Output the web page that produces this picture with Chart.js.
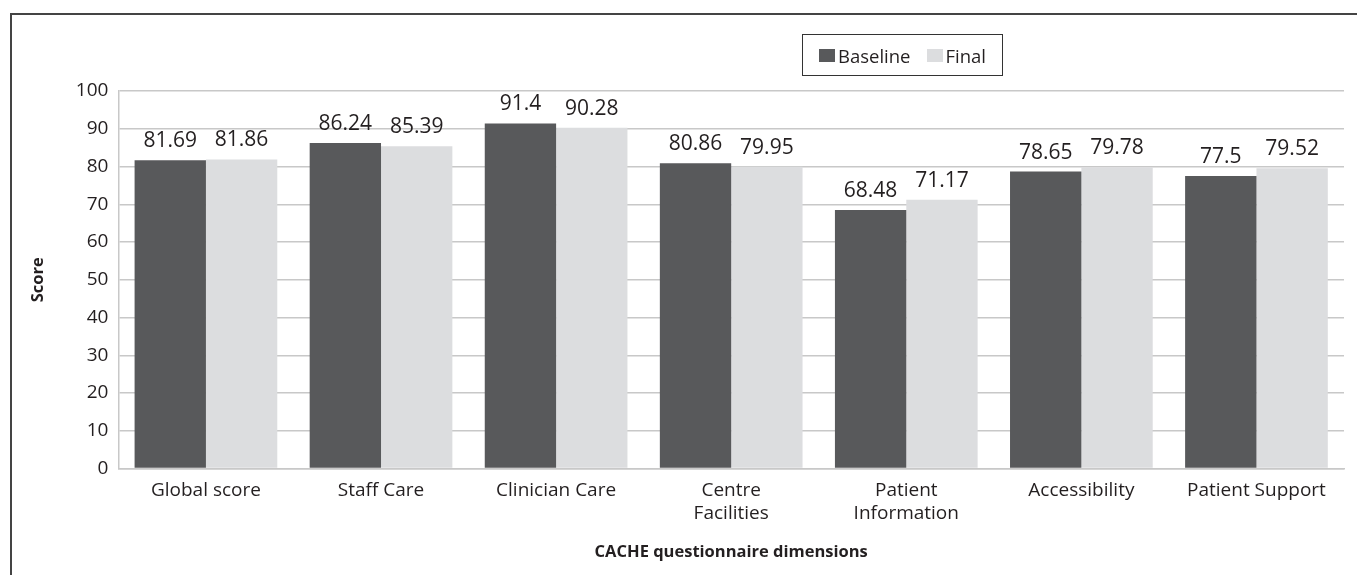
<!DOCTYPE html>
<html>
<head>
<meta charset="utf-8">
<script src="https://cdn.jsdelivr.net/npm/chart.js@4"></script>
<style>
    body { margin: 0; background: #fff; font-family: "Open Sans", sans-serif; }
    #wrap { position: relative; width: 1357px; height: 575px; }
    #frame { position: absolute; left: 10px; top: 13px; right: 0; bottom: 0; border-left: 2px solid #444; border-top: 2px solid #444; pointer-events: none; }
    #legend { position: absolute; left: 802px; top: 34px; width: 201px; height: 42px; border: 1.5px solid #333; box-sizing: border-box;
              display: flex; align-items: center; justify-content: center; font-size: 18.5px; color: #231f20; }
    #legend span.sw { display: inline-block; width: 16px; height: 13px; margin-right: 3px; }
    #legend span.item { display: inline-flex; align-items: center; margin: 0 8px; }
</style>
</head>
<body>
<div id="wrap">
    <canvas id="chart" width="1357" height="575"></canvas>
    <div id="frame"></div>
    <div id="legend"></div>
</div>
<script>
const categories = ['Global score', 'Staff Care', 'Clinician Care', ['Centre', 'Facilities'], ['Patient', 'Information'], 'Accessibility', 'Patient Support'];
const baseline = [81.69, 86.24, 91.4, 80.86, 68.48, 78.65, 77.5];
const final = [81.86, 85.39, 90.28, 79.95, 71.17, 79.78, 79.52];
const yTicks = [0, 10, 20, 30, 40, 50, 60, 70, 80, 90, 100];

const seriesNames = ['Baseline', 'Final'];
const seriesColors = ['#58595b', '#dcdddf'];
const textColor = '#231f20';

// legend in html
const legend = document.getElementById('legend');
seriesNames.forEach((name, i) => {
    const item = document.createElement('span');
    item.className = 'item';
    const sw = document.createElement('span');
    sw.className = 'sw';
    sw.style.background = seriesColors[i];
    item.appendChild(sw);
    item.appendChild(document.createTextNode(name));
    legend.appendChild(item);
});

// value labels above bars
const valueLabels = {
    id: 'valueLabels',
    afterDatasetsDraw(chart) {
        const ctx = chart.ctx;
        ctx.save();
        ctx.font = '21px "Open Sans"';
        ctx.fillStyle = textColor;
        ctx.textAlign = 'center';
        ctx.textBaseline = 'alphabetic';
        chart.data.datasets.forEach((ds, di) => {
            chart.getDatasetMeta(di).data.forEach((bar, i) => {
                ctx.fillText(String(ds.data[i]), bar.x, bar.y - 13);
            });
        });
        ctx.restore();
    }
};

new Chart(document.getElementById('chart'), {
    type: 'bar',
    data: {
        labels: categories,
        datasets: [
            { label: seriesNames[0], data: baseline, backgroundColor: seriesColors[0] },
            { label: seriesNames[1], data: final, backgroundColor: seriesColors[1] }
        ]
    },
    options: {
        responsive: false,
        animation: false,
        layout: { padding: { left: 24, right: 13, top: 91, bottom: 9 } },
        datasets: { bar: { categoryPercentage: 0.815, barPercentage: 1 } },
        plugins: { legend: { display: false }, tooltip: { enabled: false } },
        scales: {
            x: {
                grid: { display: false },
                border: { color: '#c8c8c8', width: 1.5 },
                ticks: { color: textColor, font: { family: 'Open Sans', size: 19 }, padding: 3, maxRotation: 0 },
                title: { display: true, text: 'CACHE questionnaire dimensions', color: textColor,
                         font: { family: 'Open Sans', size: 16.5, weight: 'bold' }, padding: { top: 14 } }
            },
            y: {
                min: 0, max: 100,
                afterBuildTicks(axis) { axis.ticks = yTicks.map(v => ({ value: v })); },
                grid: { color: '#c8c8c8', lineWidth: 1.5, drawTicks: false },
                border: { color: '#c8c8c8', width: 1.5 },
                ticks: { color: textColor, font: { family: 'Open Sans', size: 19 }, padding: 10 },
                title: { display: true, text: 'Score', color: textColor,
                         font: { family: 'Open Sans', size: 16.5, weight: 'bold' }, padding: { bottom: 18 } }
            }
        }
    },
    plugins: [valueLabels]
});
</script>
</body>
</html>
